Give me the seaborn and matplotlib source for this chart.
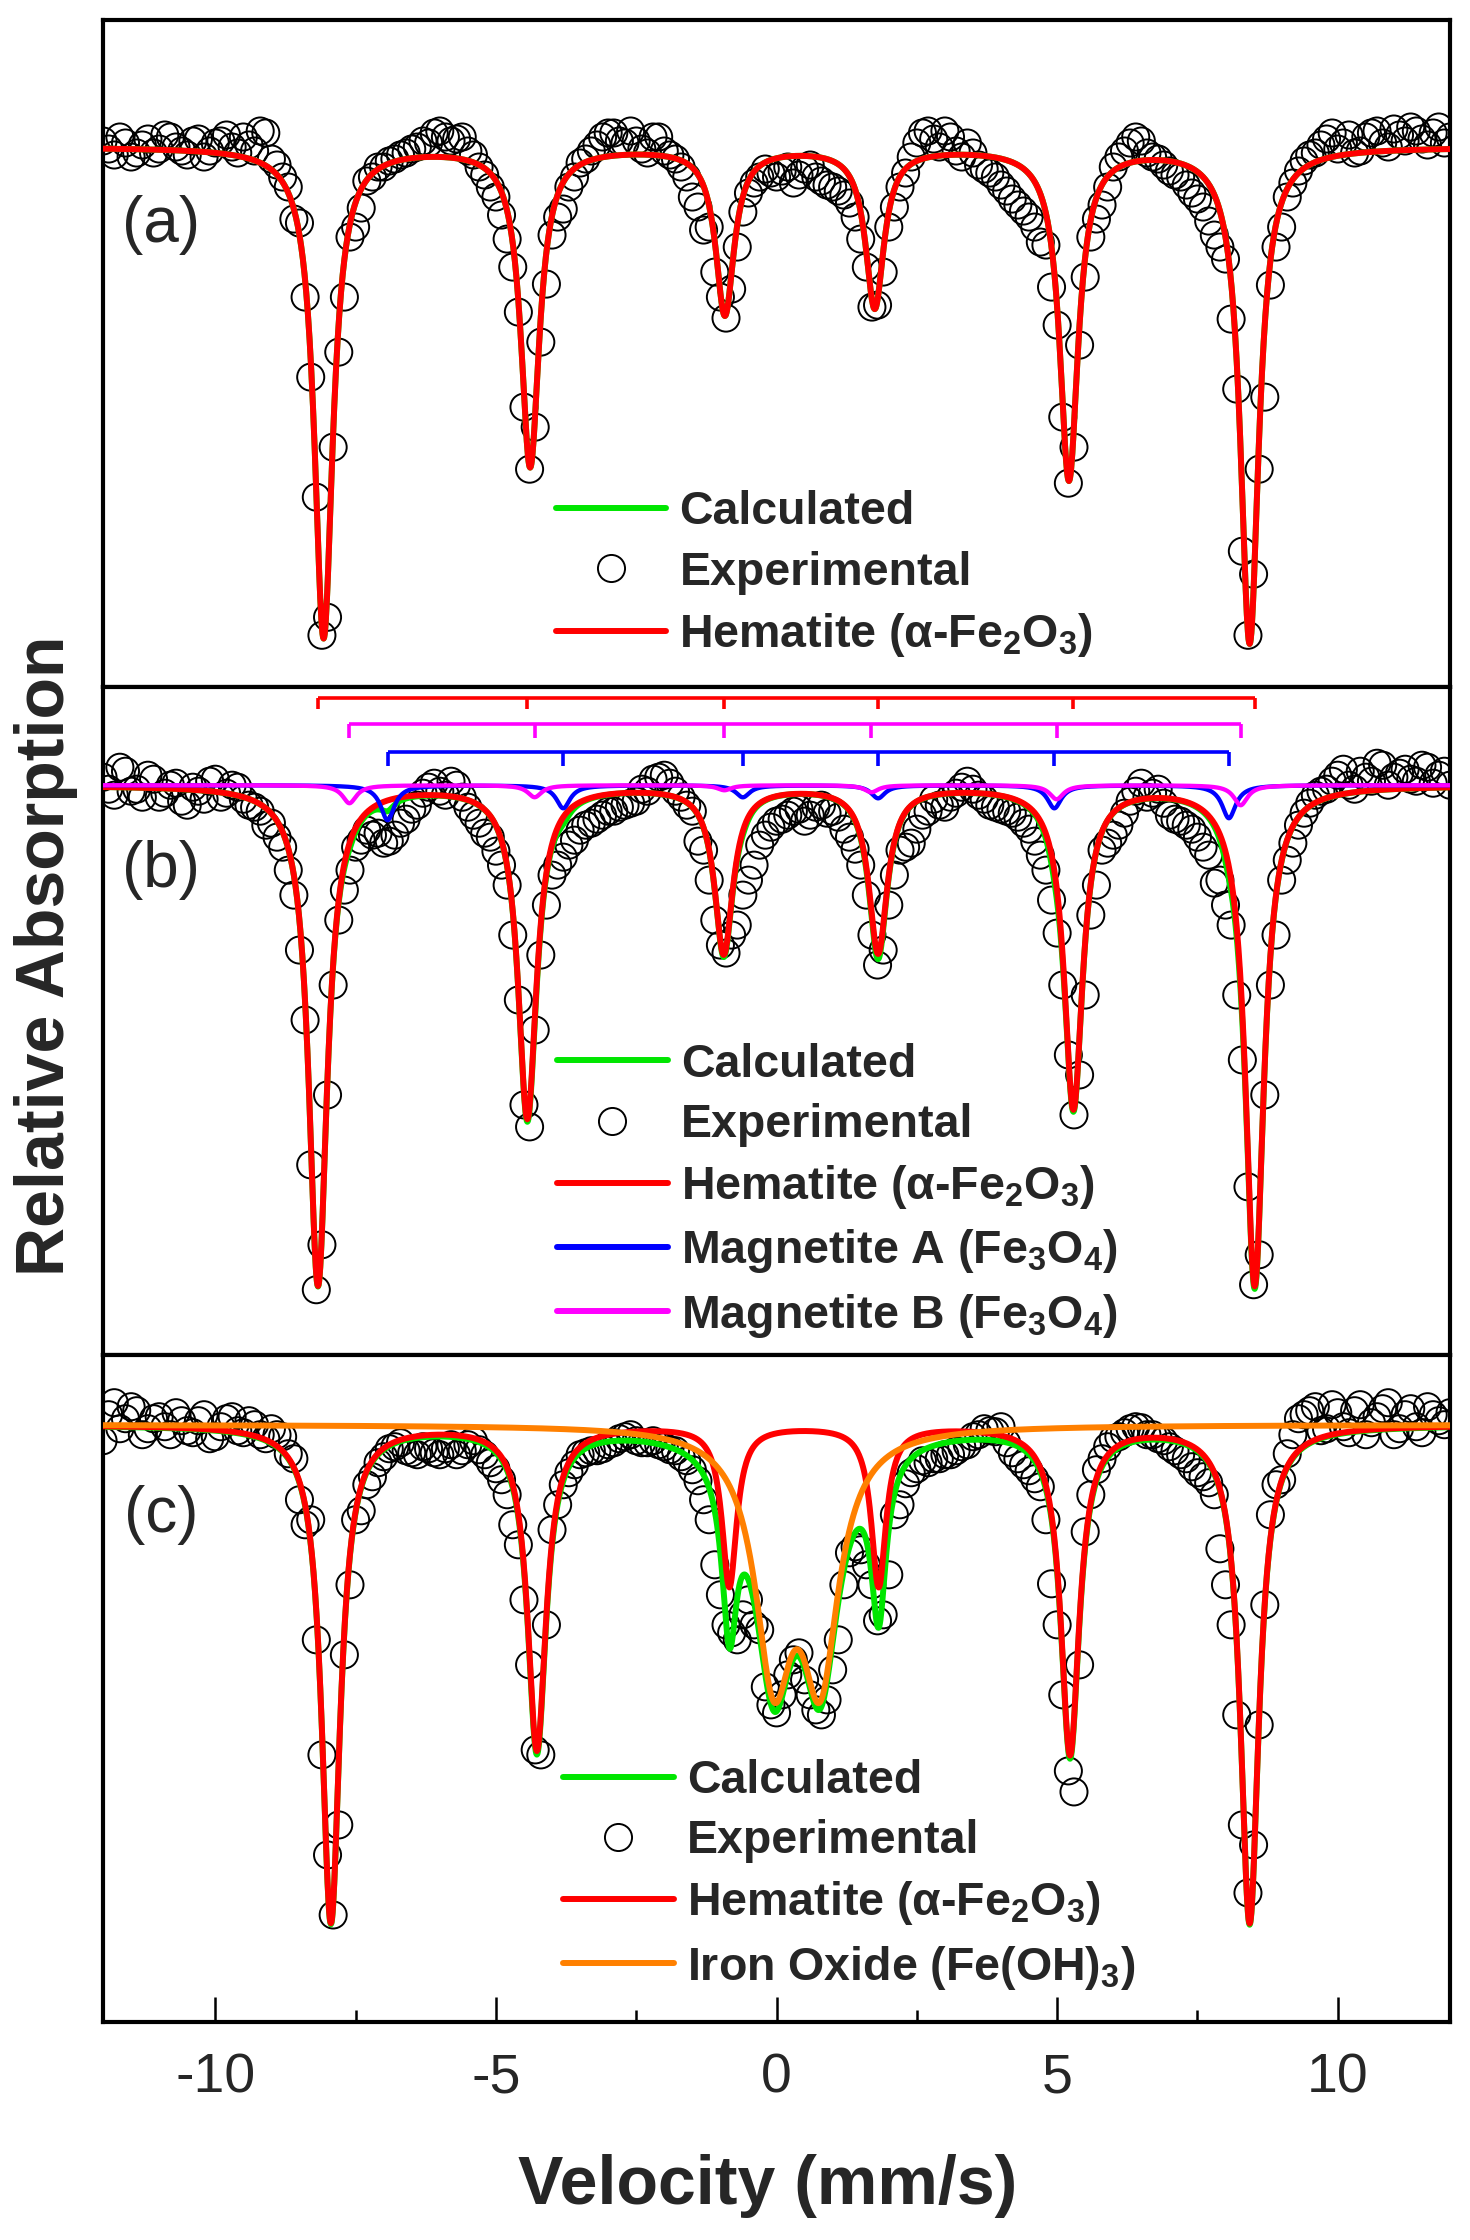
import numpy as np
import seaborn as sns
import matplotlib.pyplot as plt
from matplotlib.lines import Line2D
from matplotlib.ticker import MultipleLocator

sns.set_style("white")
plt.rcParams["font.family"] = ["Liberation Sans", "DejaVu Sans"]
plt.rcParams["mathtext.fontset"] = "custom"
plt.rcParams["mathtext.rm"] = "Liberation Sans:bold"
plt.rcParams["mathtext.default"] = "rm"
plt.rcParams["axes.unicode_minus"] = False

# channel velocities (mm/s): even and odd channels
velocity = np.round(np.arange(-12.0, 12.01, 0.2), 1)
velocity_odd = np.round(np.arange(-11.9, 11.91, 0.2), 1)

# measured absorption per channel (x1000, 0 = baseline)
exp_a = [-6, 8, -4, 6, -8, 2, -10, 4, -6, 10,
         -4, -12, 6, -2, -16, 12, 30, 72, 150, 350,
         470, 205, 90, 61, 30, 20, 12, 6, 0, -4,
         -16, -6, -10, 8, 28, 50, 92, 165, 322, 195,
         88, 62, 30, 12, -2, -14, -6, -16, 2, -10,
         4, 12, 30, 60, 80, 150, 142, 65, 36, 22,
         30, 20, 28, 18, 34, 40, 48, 70, 120, 158,
         80, 40, 10, -14, -8, -16, 4, -4, 18, 26,
         38, 52, 64, 80, 98, 178, 336, 198, 90, 58,
         20, 4, -10, 6, 12, 24, 30, 46, 60, 88,
         112, 242, 488, 322, 138, 80, 36, 14, 6, -8,
         2, -12, 4, -14, -4, -18, -6, -16, -2, -20,
         -10]
exp_a_odd = [2, -10, 10, -2, 6, -12, 0, 8, -8, 4,
             -6, 0, -10, 4, -14, 18, 40, 76, 230, 488,
             300, 150, 80, 34, 20, 14, 8, 2, -6, -14,
             -10, -8, 4, 20, 40, 68, 120, 260, 280, 137,
             70, 40, 16, 4, -10, -14, -4, -6, 6, -10,
             8, 20, 50, 83, 125, 171, 100, 46, 30, 26,
             24, 36, 22, 30, 38, 44, 56, 92, 160, 125,
             60, 26, -4, -16, 0, -10, 10, 6, 22, 30,
             44, 58, 70, 95, 140, 270, 300, 130, 72, 40,
             10, -4, -6, 10, 18, 28, 38, 52, 74, 100,
             172, 404, 427, 250, 100, 50, 24, 8, -2, -14,
             -4, 6, -10, -16, 0, -12, -20, -8, -14, -4]
exp_b = [-8, 10, -14, 4, -10, 12, 0, 16, 2, 14,
         -6, 8, 2, 20, 26, 38, 62, 110, 235, 505,
         310, 135, 85, 55, 50, 58, 50, 34, 20, 2,
         6, -4, 12, 30, 48, 66, 100, 215, 342, 170,
         90, 72, 55, 40, 34, 26, 22, 18, 4, -6,
         -10, 6, 20, 56, 95, 160, 150, 110, 80, 50,
         36, 30, 24, 30, 20, 26, 44, 64, 110, 180,
         120, 65, 58, 30, 14, 22, 8, -4, 10, 20,
         24, 28, 38, 56, 85, 148, 270, 290, 130, 65,
         50, 28, 6, 12, 4, 30, 36, 44, 62, 98,
         120, 210, 402, 470, 200, 95, 58, 28, 10, 4,
         -10, 0, -14, -4, -20, -8, -16, -4, -18, -10,
         0]
exp_b_odd = [4, -18, 6, 12, -6, 8, -2, 20, 6, -4,
             12, 0, 14, 22, 40, 52, 85, 165, 380, 460,
             200, 105, 62, 45, 48, 56, 38, 24, 8, -2,
             10, 0, 22, 38, 52, 80, 150, 320, 245, 120,
             80, 60, 45, 38, 30, 26, 20, 16, 6, -8,
             -2, 12, 26, 65, 135, 168, 140, 95, 60, 42,
             34, 26, 36, 22, 28, 32, 52, 80, 150, 165,
             90, 62, 44, 26, 20, 12, 2, 4, 14, 22,
             26, 32, 44, 70, 115, 200, 330, 210, 100, 58,
             40, 16, -2, 8, 18, 34, 40, 52, 70, 95,
             140, 275, 500, 310, 150, 75, 40, 18, 6, -4,
             -16, 4, -8, -22, 0, -12, -6, -20, -2, -14]
exp_c = [16, -22, -6, -14, 4, -8, 10, -4, 8, -10,
         12, -6, 6, -4, 10, 4, 12, 34, 100, 215,
         430, 400, 160, 86, 52, 32, 22, 26, 30, 24,
         30, 20, 26, 16, 30, 44, 70, 120, 240, 330,
         105, 60, 40, 28, 26, 20, 14, 10, 18, 16,
         22, 26, 36, 56, 95, 170, 208, 190, 200, 262,
         288, 250, 228, 270, 290, 245, 160, 122, 140, 196,
         150, 80, 48, 36, 34, 30, 26, 20, 10, 6,
         2, 28, 40, 54, 95, 200, 346, 240, 70, 34,
         14, 8, 2, 10, 14, 22, 30, 42, 52, 70,
         160, 290, 468, 300, 90, 55, 10, -10, -18, 4,
         -12, 8, -20, -2, -16, 10, -10, 2, -18, -4,
         -12]
exp_c_odd = [-10, 4, -18, 10, -6, 2, -12, 6, -4, 14,
             2, -8, 8, 0, 14, 10, 29, 75, 95, 330,
             490, 230, 95, 60, 38, 24, 18, 28, 22, 28,
             24, 30, 20, 25, 38, 55, 100, 175, 325, 200,
             80, 48, 30, 26, 24, 18, 12, 16, 18, 20,
             25, 32, 45, 75, 140, 200, 215, 175, 205, 280,
             270, 235, 255, 285, 275, 215, 128, 125, 160, 190,
             90, 59, 44, 38, 34, 30, 22, 12, 4, 7,
             18, 34, 46, 62, 159, 270, 367, 107, 45, 22,
             12, 4, 3, 10, 16, 26, 34, 48, 58, 124,
             200, 400, 420, 180, 60, 29, -6, -14, 6, -20,
             2, -14, 10, -8, -22, 4, -16, 8, -10, 0]

# fitted components: line position (mm/s), depth (x1000), half width (mm/s)
hem_a_pos = [-8.07, -4.39, -0.92, 1.75, 5.21, 8.43]
hem_a_depth = [490, 318, 166, 159, 331, 495]
hem_a_hw = [0.2, 0.2, 0.2, 0.2, 0.2, 0.2]

hem_b_pos = [-8.17, -4.44, -0.94, 1.81, 5.29, 8.52]
hem_b_depth = [500, 332, 167, 166, 322, 500]
hem_b_hw = [0.2, 0.2, 0.2, 0.2, 0.2, 0.2]
magA_pos = [-6.93, -3.80, -0.60, 1.81, 4.95, 8.06]
magA_depth = [35, 23, 12, 13, 23, 33]
magA_hw = [0.15, 0.15, 0.15, 0.15, 0.15, 0.15]
magB_pos = [-7.61, -4.31, -0.93, 1.69, 4.99, 8.27]
magB_depth = [18, 12, 5, 7, 14, 20]
magB_hw = [0.15, 0.15, 0.15, 0.15, 0.15, 0.15]
mag_share_in_fit = 0.3  # magnetite sub-spectra are drawn enlarged

hem_c_pos = [-7.94, -4.27, -0.84, 1.82, 5.23, 8.43]
hem_c_depth = [497, 324, 160, 160, 328, 497]
hem_c_hw = [0.2, 0.2, 0.16, 0.16, 0.2, 0.2]
feoh_pos = [-0.05, 0.78]
feoh_depth = [233, 233]
feoh_hw = [0.4, 0.4]

GREEN, RED, BLUE, MAGENTA, ORANGE = "#00e600", "#ff0000", "#0000ff", "#ff00ff", "#ff8000"
LW = 4.3
LW_MAG = 3.1


def absorb(v, pos, depth, hw):
    v = np.asarray(v)[:, None]
    return (np.asarray(depth) / (1 + ((v - np.asarray(pos)) / np.asarray(hw)) ** 2)).sum(axis=1)


def trans(a):
    return 1 - np.asarray(a) / 1000.0


vfit = np.linspace(-12, 12, 2401)

fig, axes = plt.subplots(3, 1, figsize=(14.7, 22.4), dpi=100, sharex=True)
fig.subplots_adjust(left=0.0701, right=0.9864, top=0.9911, bottom=0.0973, hspace=0)


def draw_exp(ax, even, odd):
    for v, data in [(velocity, even), (velocity_odd, odd)]:
        sns.scatterplot(x=v, y=trans(data), ax=ax, marker="o", s=380,
                        color="none", edgecolor="black", linewidth=1.4, zorder=1)


def draw_line(ax, a, color, lw=LW, z=3):
    sns.lineplot(x=vfit, y=trans(a), ax=ax, color=color, lw=lw, zorder=z,
                 estimator=None, sort=False)


# (a)
ax = axes[0]
hem_a = absorb(vfit, hem_a_pos, hem_a_depth, hem_a_hw)
draw_exp(ax, exp_a, exp_a_odd)
draw_line(ax, hem_a, GREEN, z=2)
draw_line(ax, hem_a, RED)
ax.set_ylim(0.460, 1.127)

# (b)
ax = axes[1]
hem_b = absorb(vfit, hem_b_pos, hem_b_depth, hem_b_hw)
mag_a = absorb(vfit, magA_pos, magA_depth, magA_hw)
mag_b = absorb(vfit, magB_pos, magB_depth, magB_hw)
draw_exp(ax, exp_b, exp_b_odd)
draw_line(ax, hem_b + mag_share_in_fit * (mag_a + mag_b), GREEN, z=2)
draw_line(ax, hem_b, RED)
draw_line(ax, mag_a, BLUE, lw=LW_MAG, z=4)
draw_line(ax, mag_b, MAGENTA, lw=LW_MAG, z=5)
for pos, color, y0, tick in [(hem_b_pos, RED, 1.087, 0.011),
                             (magB_pos, MAGENTA, 1.061, 0.014),
                             (magA_pos, BLUE, 1.033, 0.014)]:
    ax.hlines(y0, min(pos), max(pos), color=color, lw=2.6)
    ax.vlines(pos, y0 - tick, y0, color=color, lw=2.6)
ax.set_ylim(0.430, 1.098)

# (c)
ax = axes[2]
hem_c = absorb(vfit, hem_c_pos, hem_c_depth, hem_c_hw)
feoh = absorb(vfit, feoh_pos, feoh_depth, feoh_hw)
draw_exp(ax, exp_c, exp_c_odd)
draw_line(ax, hem_c + feoh, GREEN, z=2)
draw_line(ax, hem_c, RED)
draw_line(ax, feoh, ORANGE, z=4)
ax.set_ylim(0.403, 1.070)

# legends
leg_font = dict(family="Liberation Sans", weight="bold", size=33.5)
h_calc = Line2D([], [], color=GREEN, lw=LW)
h_exp = Line2D([], [], ls="none", marker="o", ms=19.5, mfc="none", mec="black", mew=1.4)
h_hem = Line2D([], [], color=RED, lw=LW)
h_ma = Line2D([], [], color=BLUE, lw=LW)
h_mb = Line2D([], [], color=MAGENTA, lw=LW)
h_fe = Line2D([], [], color=ORANGE, lw=LW)
hem_label = "Hematite (\u03b1-Fe$_2$O$_3$)"

legend_specs = [
    (axes[0], [h_calc, h_exp, h_hem], ["Calculated", "Experimental", hem_label], (0.336, 0.169)),
    (axes[1], [h_calc, h_exp, h_hem, h_ma, h_mb],
     ["Calculated", "Experimental", hem_label,
      "Magnetite A (Fe$_3$O$_4$)", "Magnetite B (Fe$_3$O$_4$)"], (0.337, 0.245)),
    (axes[2], [h_calc, h_exp, h_hem, h_fe],
     ["Calculated", "Experimental", hem_label, "Iron Oxide (Fe(OH)$_3$)"], (0.3415, 0.220)),
]
for ax, handles, labels, anchor in legend_specs:
    ax.legend(handles, labels, loc="center left", bbox_to_anchor=anchor, frameon=False,
              prop=leg_font, handlelength=2.38, handletextpad=0.28, labelspacing=0.35,
              borderpad=0, borderaxespad=0)

for ax, tag, ty in zip(axes, ["(a)", "(b)", "(c)"], [0.693, 0.726, 0.760]):
    ax.text(0.043, ty, tag, transform=ax.transAxes, ha="center", va="center",
            fontsize=46, family="Liberation Sans")
    ax.set_xlim(-12, 12)
    ax.set_yticks([])
    ax.set_ylabel("")
    ax.set_xlabel("")
    for sp in ax.spines.values():
        sp.set_linewidth(3)
        sp.set_color("black")
    ax.tick_params(axis="x", which="both", bottom=False, top=False, labelbottom=False)

ax = axes[2]
ax.xaxis.set_major_locator(MultipleLocator(5))
ax.xaxis.set_minor_locator(MultipleLocator(2.5))
ax.tick_params(axis="x", which="major", bottom=True, labelbottom=True, direction="in",
               length=18, width=1.8, labelsize=40, pad=22, color="black")
ax.tick_params(axis="x", which="minor", bottom=True, direction="in", length=9, width=1.8,
               color="black")

fig.text(768 / 1470, 1 - 2186 / 2240, "Velocity (mm/s)", ha="center", va="center",
         fontsize=49, fontweight="bold")
fig.text(46 / 1470, 1 - 956 / 2240, "Relative Absorption", ha="center", va="center",
         rotation=90, fontsize=49, fontweight="bold")

fig.savefig("out.png", dpi=100)
